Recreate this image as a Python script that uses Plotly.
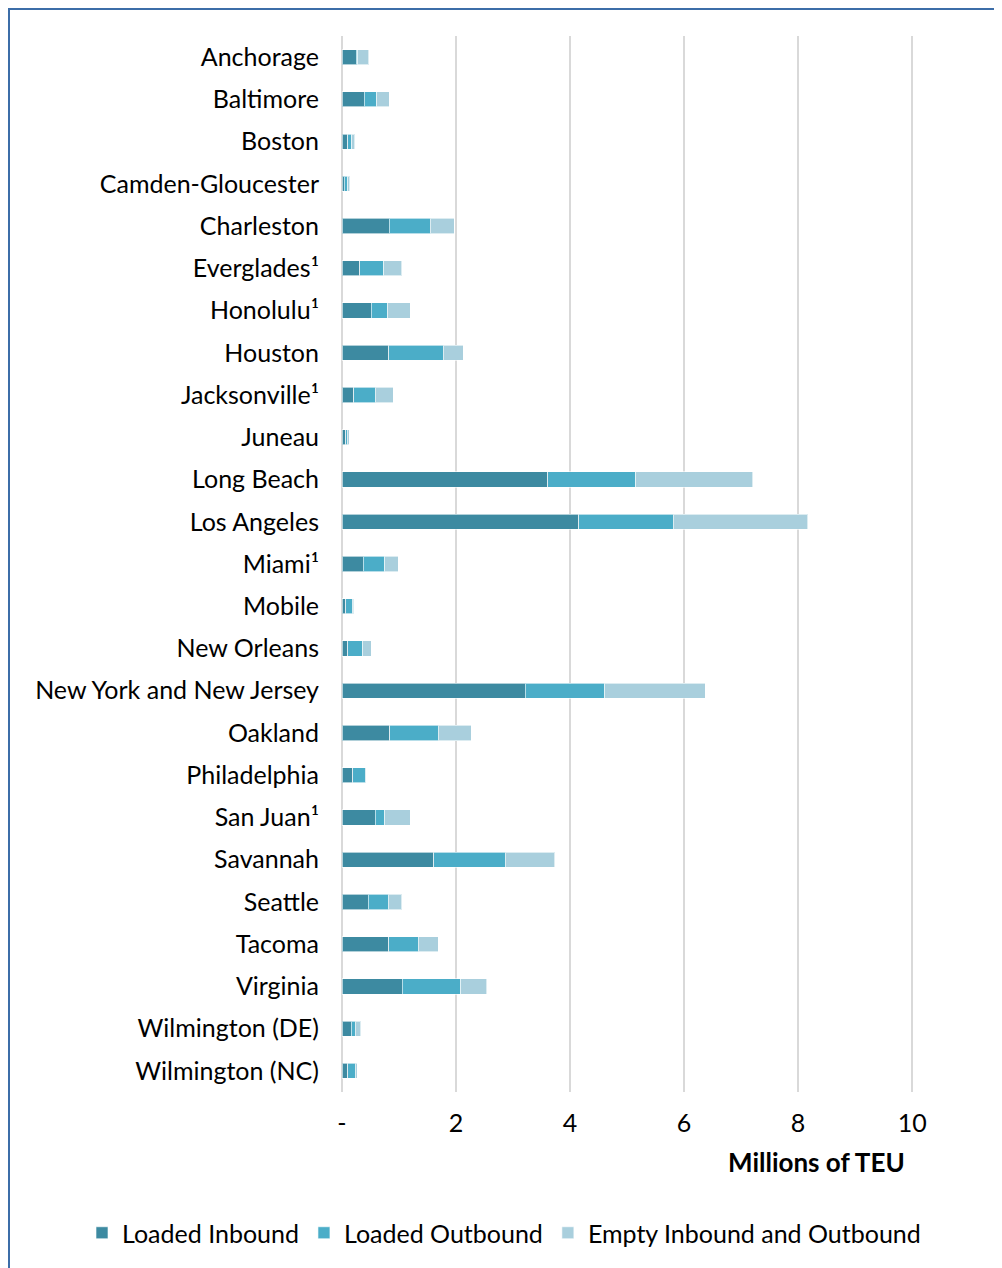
import plotly.graph_objects as go

ports = ["Anchorage", "Baltimore", "Boston", "Camden-Gloucester", "Charleston",
         "Everglades¹", "Honolulu¹", "Houston", "Jacksonville¹", "Juneau",
         "Long Beach", "Los Angeles", "Miami¹", "Mobile", "New Orleans",
         "New York and New Jersey", "Oakland", "Philadelphia", "San Juan¹", "Savannah",
         "Seattle", "Tacoma", "Virginia", "Wilmington (DE)", "Wilmington (NC)"]

loaded_inbound = [0.25, 0.39, 0.10, 0.04, 0.83,
                  0.31, 0.51, 0.82, 0.21, 0.07,
                  3.61, 4.15, 0.37, 0.07, 0.10,
                  3.21, 0.84, 0.19, 0.58, 1.61,
                  0.46, 0.82, 1.06, 0.16, 0.10]
loaded_outbound = [0.03, 0.22, 0.07, 0.065, 0.72,
                   0.42, 0.29, 0.96, 0.37, 0.02,
                   1.54, 1.66, 0.38, 0.11, 0.26,
                   1.40, 0.85, 0.22, 0.17, 1.25,
                   0.35, 0.52, 1.02, 0.07, 0.13]
empty = [0.19, 0.22, 0.05, 0.03, 0.42,
         0.32, 0.40, 0.35, 0.32, 0.04,
         2.05, 2.36, 0.24, 0.03, 0.15,
         1.76, 0.58, 0.01, 0.45, 0.87,
         0.24, 0.35, 0.46, 0.10, 0.04]

tick_vals = [0, 2, 4, 6, 8, 10]
tick_text = ["-", "2", "4", "6", "8", "10"]

series = [("Loaded Inbound", loaded_inbound, "#3D8AA1"),
          ("Loaded Outbound", loaded_outbound, "#4BADC8"),
          ("Empty Inbound and Outbound", empty, "#A9CFDD")]

FONT = "Lato, 'Open Sans', sans-serif"
OFF = 8  # page body margin offset

fig = go.Figure()
for name, vals, col in series:
    fig.add_trace(go.Bar(
        y=ports, x=vals, name=name, orientation="h",
        marker=dict(color=col, line=dict(color="rgba(255,255,255,0.6)", width=1)),
        width=0.36,
    ))

W, H = 1002, 1268
L = 342 - OFF
R = W - (915 - OFF)
T = 36 - OFF
B = H - (1092 - OFF)
pw, ph = W - L - R, H - T - B

def px(x):
    return (x - OFF - L) / pw

def py(y):
    return (H - B - (y - OFF)) / ph

fig.update_layout(
    width=W, height=H,
    barmode="stack",
    plot_bgcolor="white", paper_bgcolor="white",
    margin=dict(l=L, r=R, t=T, b=B, autoexpand=False),
    font=dict(family=FONT, size=25, color="black"),
    xaxis=dict(range=[0, 10.05], tickvals=tick_vals, ticktext=tick_text,
               showgrid=True, gridcolor="#D9D9D9", gridwidth=2,
               zeroline=True, zerolinecolor="#D9D9D9", zerolinewidth=2,
               showline=False, ticks="", ticklabelstandoff=14,
               tickfont=dict(size=25, family=FONT)),
    yaxis=dict(autorange="reversed", showgrid=False, ticks="",
               ticklabelstandoff=22, tickfont=dict(size=25, family=FONT),
               categoryorder="array", categoryarray=ports),
    legend=dict(orientation="h", xref="paper", yref="paper",
                x=px(82), xanchor="left",
                y=py(1233), yanchor="middle",
                font=dict(size=25, family=FONT), itemwidth=30, traceorder="normal",
                bgcolor="rgba(0,0,0,0)"),
    showlegend=True,
)

fig.add_annotation(text="<b>Millions of TEU</b>", xref="paper", yref="paper",
                   x=px(907), y=py(1162), xanchor="right", yanchor="middle",
                   showarrow=False, font=dict(size=26, family=FONT))

# outer blue frame (top and left edges visible)
fig.add_shape(type="path", xref="paper", yref="paper",
              path=f"M {px(9)},{py(1290)} L {px(9)},{py(9)} L {px(1020)},{py(9)}",
              line=dict(color="#3C6DA8", width=2))

fig.write_html("out.html")
